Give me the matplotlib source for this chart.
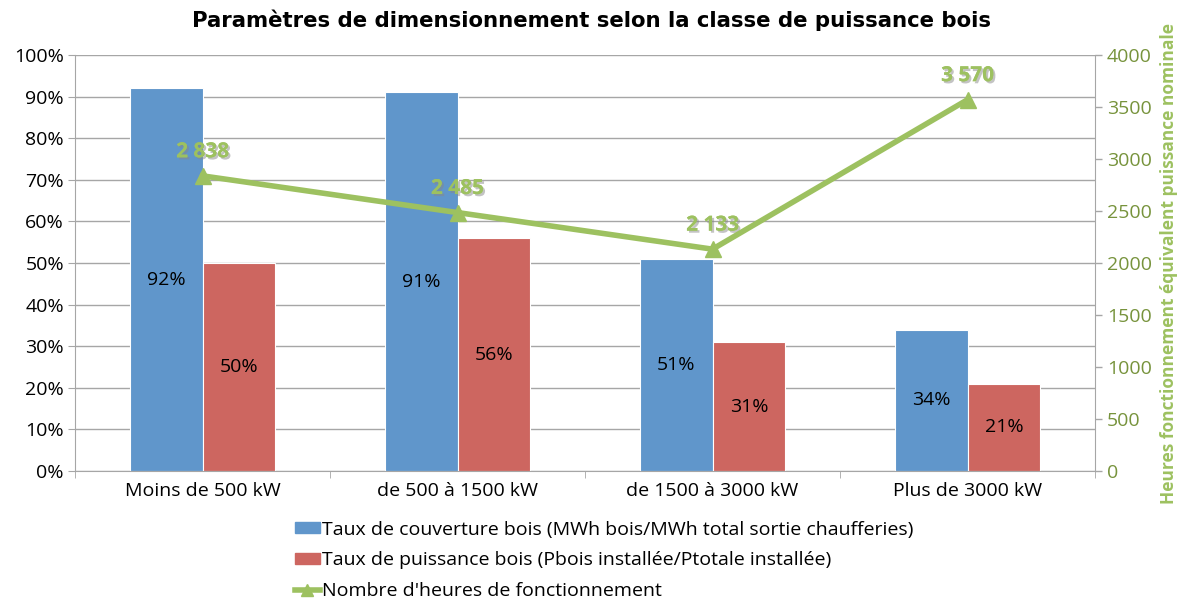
import matplotlib.pyplot as plt
import matplotlib.patheffects as pe
from matplotlib.lines import Line2D
from matplotlib.patches import Patch
import numpy as np

plt.rcParams['font.family'] = ['Open Sans', 'DejaVu Sans']

# data
categories = ["Moins de 500 kW", "de 500 à 1500 kW", "de 1500 à 3000 kW", "Plus de 3000 kW"]
taux_couverture = [92, 91, 51, 34]
taux_puissance = [50, 56, 31, 21]
heures = [2838, 2485, 2133, 3570]
heures_labels = ["2 838", "2 485", "2 133", "3 570"]

blue = "#6096CB"
red = "#CD6660"
green = "#9DC160"
green_dark = "#77933C"
grey = "#A6A6A6"

fig = plt.figure(figsize=(11.83, 6.05), dpi=100)
ax = fig.add_axes([75 / 1183, 1 - 471 / 605, 1020 / 1183, 416 / 605])
ax2 = ax.twinx()

x = np.arange(len(categories))
w = 0.285
ax.bar(x - w / 2, taux_couverture, w, color=blue, edgecolor="white", linewidth=0.8, zorder=2)
ax.bar(x + w / 2, taux_puissance, w, color=red, edgecolor="white", linewidth=0.8, zorder=2)

for i in range(len(categories)):
    ax.text(x[i] - w / 2, taux_couverture[i] / 2, f"{taux_couverture[i]}%", ha="center", va="center", fontsize=14)
    ax.text(x[i] + w / 2, taux_puissance[i] / 2, f"{taux_puissance[i]}%", ha="center", va="center", fontsize=14)

ax.set_ylim(0, 100)
ax.set_xlim(-0.5, 3.5)
ax.set_yticks(range(0, 101, 10))
ax.set_yticklabels([f"{v}%" for v in range(0, 101, 10)], fontsize=14)
ax.set_xticks(x)
ax.set_xticklabels(categories, fontsize=14)
ax.set_xticks(np.arange(-0.5, 3.6, 1), minor=True)
ax.tick_params(axis="x", which="major", length=0, pad=8)
ax.tick_params(axis="x", which="minor", length=5, color=grey)
ax.tick_params(axis="y", length=5, color=grey, pad=3)
ax.grid(axis="y", color=grey, linewidth=1, zorder=0)
ax.set_axisbelow(True)
for s in ["top", "right"]:
    ax.spines[s].set_visible(False)
ax.spines["bottom"].set_color(grey)
ax.spines["left"].set_color(grey)

ax2.plot(x, heures, color=green, linewidth=4, marker="^", markersize=11, zorder=5)
shadow = [pe.withSimplePatchShadow(offset=(1.5, -1.5), shadow_rgbFace="#888888", alpha=0.5), pe.Normal()]
for i in range(len(categories)):
    ax2.text(x[i], heures[i] + 130, heures_labels[i], ha="center", va="bottom", fontsize=15,
             fontweight="bold", color=green, path_effects=shadow)
ax2.set_ylim(0, 4000)
ax2.set_yticks(range(0, 4001, 500))
ax2.tick_params(axis="y", colors=green_dark, labelsize=14, length=5, direction="out", width=1)
ax2.tick_params(axis="y", color=grey)
for s in ["top", "left", "bottom"]:
    ax2.spines[s].set_visible(False)
ax2.spines["right"].set_color(grey)
ax2.set_ylabel("Heures fonctionnement équivalent puissance nominale", color=green, fontsize=12.5,
               fontweight="bold", labelpad=6)

fig.suptitle("Paramètres de dimensionnement selon la classe de puissance bois", fontsize=15.3,
             fontweight="bold", family="DejaVu Sans", y=0.985)

handles = [Patch(color=blue), Patch(color=red),
           Line2D([0], [0], color=green, linewidth=4, marker="^", markersize=8)]
labels = ["Taux de couverture bois (MWh bois/MWh total sortie chaufferies)",
          "Taux de puissance bois (Pbois installée/Ptotale installée)",
          "Nombre d'heures de fonctionnement"]
fig.legend(handles, labels, loc="upper left", bbox_to_anchor=(287 / 1183, 1 - 513 / 605), frameon=False,
           fontsize=14, handlelength=1.3, handleheight=0.5, handletextpad=0.1, labelspacing=0.65,
           borderaxespad=0)

fig.savefig("out.png", dpi=100)
